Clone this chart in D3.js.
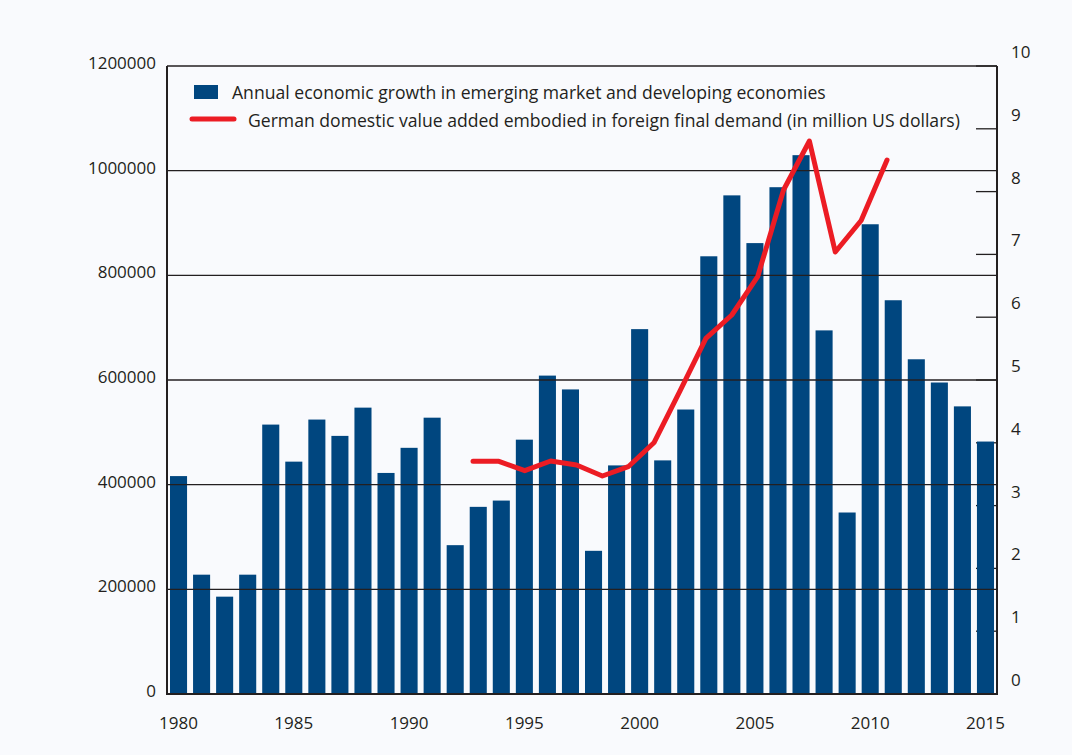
<!DOCTYPE html>
<html lang="en">
<head>
    <meta charset="UTF-8">
    <title>Growth and German value added</title>
</head>

<style>
body {
    margin: 0;
    background: #f9fafd;
}

text {
    font-family: 'Open Sans', sans-serif;
    fill: #231f20;
}

.tick-label {
    font-size: 17px;
}

.legend-label {
    font-size: 17.6px;
}

.bar {
    fill: #00467f;
}

.grid {
    stroke: #231f20;
    stroke-width: 1.3;
}

.frame {
    stroke: #231f20;
    stroke-width: 2;
    fill: none;
}
</style>

<body>
<svg height="755" width="1072"></svg>

<script src="https://d3js.org/d3.v7.min.js"></script>

<script>

    var translate = function(left, top) {
        return "translate(" + left + "," + top + ")";
    };

    // bars: annual growth (right axis, %)
    var years = [1980, 1981, 1982, 1983, 1984, 1985, 1986, 1987, 1988, 1989,
                 1990, 1991, 1992, 1993, 1994, 1995, 1996, 1997, 1998, 1999,
                 2000, 2001, 2002, 2003, 2004, 2005, 2006, 2007, 2008, 2009,
                 2010, 2011, 2012, 2013, 2014, 2015];
    var growth = [3.47, 1.90, 1.55, 1.90, 4.29, 3.70, 4.37, 4.11, 4.56, 3.52,
                  3.92, 4.40, 2.37, 2.98, 3.08, 4.05, 5.07, 4.85, 2.28, 3.64,
                  5.81, 3.72, 4.53, 6.97, 7.94, 7.18, 8.07, 8.58, 5.79, 2.89,
                  7.48, 6.27, 5.33, 4.96, 4.58, 4.02];

    // line: German domestic value added in foreign final demand (left axis, million USD)
    var lineYears = [1995, 1996, 1997, 1998, 1999, 2000, 2001, 2002, 2003,
                     2004, 2005, 2006, 2007, 2008, 2009, 2010, 2011];
    var valueAdded = [444600, 444600, 426700, 445200, 437600, 416600, 434300, 480600, 579000,
                      679700, 724200, 797400, 963000, 1056700, 844600, 904800, 1020400];

    var leftTicks = [0, 200000, 400000, 600000, 800000, 1000000, 1200000];
    var rightTicks = [0, 1, 2, 3, 4, 5, 6, 7, 8, 9, 10];
    var yearLabels = [1980, 1985, 1990, 1995, 2000, 2005, 2010, 2015];

    var legendItems = [
        "Annual economic growth in emerging market and developing economies",
        "German domestic value added embodied in foreign final demand (in million US dollars)"
    ];

    var svg = d3.select("svg"),
        margins = {top: 66, right: 75, bottom: 61, left: 167};

    var width = +svg.attr("width") - margins.left - margins.right,
        height = +svg.attr("height") - margins.top - margins.bottom;

    var chart = svg.append("g").attr("transform", translate(margins.left, margins.top));

    var x = d3.scaleBand().domain(years).range([0, width]).paddingInner(0.26).paddingOuter(0.13);
    var yLeft = d3.scaleLinear().domain([0, 1200000]).range([height, 0]);
    var yRight = d3.scaleLinear().domain([0, 10]).range([height, 0]);

    // the line series sits on its own category axis in the original
    var xLine = d3.scaleLinear().domain([1995, 2011]).range([width * 0.3687, width * 0.8675]);

    // right axis ticks, drawn behind the bars
    chart.append("g").selectAll("line")
        .data(rightTicks)
        .enter()
        .append("line")
        .attr("class", "grid")
        .attr("x1", width - 21)
        .attr("x2", width)
        .attr("y1", function(d) { return yRight(d); })
        .attr("y2", function(d) { return yRight(d); });

    chart.append("g").selectAll("rect")
        .data(years)
        .enter()
        .append("rect")
        .attr("class", "bar")
        .attr("x", function(d) { return x(d); })
        .attr("width", x.bandwidth())
        .attr("y", function(d, i) { return yRight(growth[i]); })
        .attr("height", function(d, i) { return height - yRight(growth[i]); });

    // horizontal gridlines on top of bars
    chart.append("g").selectAll("line")
        .data(leftTicks)
        .enter()
        .append("line")
        .attr("class", "grid")
        .attr("x1", 0)
        .attr("x2", width)
        .attr("y1", function(d) { return yLeft(d); })
        .attr("y2", function(d) { return yLeft(d); });

    chart.append("path")
        .attr("class", "frame")
        .attr("d", "M0,0V" + height + "H" + width + "V0");

    var line = d3.line()
        .x(function(d, i) { return xLine(lineYears[i]); })
        .y(function(d) { return yLeft(d); });

    chart.append("path")
        .datum(valueAdded)
        .attr("d", line)
        .attr("fill", "none")
        .attr("stroke", "#ec1c24")
        .attr("stroke-width", 5)
        .attr("stroke-linecap", "round")
        .attr("stroke-linejoin", "round");

    // left tick labels
    chart.append("g").selectAll("text")
        .data(leftTicks)
        .enter()
        .append("text")
        .attr("class", "tick-label")
        .attr("x", -11)
        .attr("y", function(d) { return yLeft(d) - 3; })
        .attr("dy", "0.35em")
        .attr("text-anchor", "end")
        .text(function(d) { return d; });

    // right tick labels sit a little above their ticks
    chart.append("g").selectAll("text")
        .data(rightTicks)
        .enter()
        .append("text")
        .attr("class", "tick-label")
        .attr("x", width + 14)
        .attr("y", function(d) { return yRight(d) - 14; })
        .attr("dy", "0.35em")
        .text(function(d) { return d; });

    chart.append("g").selectAll("text")
        .data(yearLabels)
        .enter()
        .append("text")
        .attr("class", "tick-label")
        .attr("x", function(d) { return x(d) + x.bandwidth() / 2; })
        .attr("y", height + 29)
        .attr("dy", "0.35em")
        .attr("text-anchor", "middle")
        .text(function(d) { return d; });

    // legend
    var legend = chart.append("g").attr("transform", translate(27, 19));

    legend.append("rect")
        .attr("class", "bar")
        .attr("width", 24)
        .attr("height", 14);

    legend.append("line")
        .attr("x1", -2)
        .attr("x2", 40)
        .attr("y1", 34)
        .attr("y2", 34)
        .attr("stroke", "#ec1c24")
        .attr("stroke-width", 5)
        .attr("stroke-linecap", "round");

    legend.selectAll("text")
        .data(legendItems)
        .enter()
        .append("text")
        .attr("class", "legend-label")
        .attr("x", function(d, i) { return i == 0 ? 38 : 54; })
        .attr("y", function(d, i) { return i == 0 ? 7.5 : 36; })
        .attr("dy", "0.35em")
        .text(function(d) { return d; });

</script>
</body>
</html>
